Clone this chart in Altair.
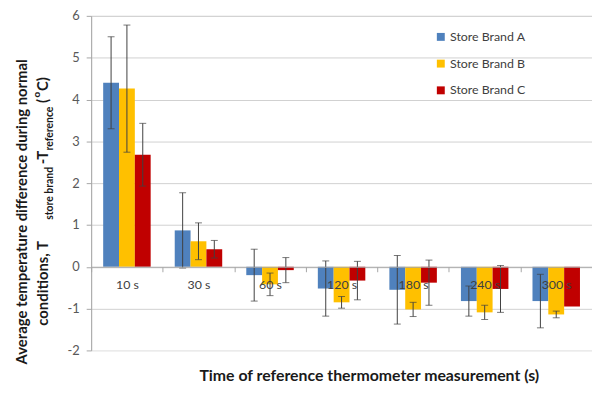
import altair as alt
import pandas as pd

categories = ["10 s", "30 s", "60 s", "120 s", "180 s", "240 s", "300 s"]
brands = ["Store Brand A", "Store Brand B", "Store Brand C"]
colors = ["#4F81BD", "#FFC000", "#C00000"]

brand_a = [4.40, 0.87, -0.20, -0.52, -0.55, -0.82, -0.82]
brand_a_err = [1.10, 0.90, 0.62, 0.66, 0.82, 0.36, 0.64]
brand_b = [4.26, 0.61, -0.42, -0.85, -1.02, -1.09, -1.14]
brand_b_err = [1.52, 0.44, 0.27, 0.14, 0.17, 0.17, 0.08]
brand_c = [2.68, 0.42, -0.08, -0.33, -0.38, -0.53, -0.95]
brand_c_err = [0.75, 0.21, 0.30, 0.46, 0.54, 0.56, 0.0]

rows = []
for b, vals, errs in zip(brands, [brand_a, brand_b, brand_c], [brand_a_err, brand_b_err, brand_c_err]):
    for t, v, e in zip(categories, vals, errs):
        rows.append({"time": t, "brand": b, "value": v, "err": e, "lo": v - e, "hi": v + e})
df = pd.DataFrame(rows)
err_df = df[df["err"] > 0]

FONT = "Lato"
W, H = 506, 338

x_enc = alt.X("time:N", sort=categories,
              scale=alt.Scale(paddingInner=0, paddingOuter=0),
              axis=alt.Axis(title=None, orient="bottom", offset=-84.5, labelAngle=0,
                            domainColor="#a6a6a6", tickColor="#a6a6a6", tickSize=5,
                            tickBand="extent", labelFont=FONT, labelFontSize=12.5,
                            labelColor="#404040", labelPadding=7, grid=False, zindex=1))
xo_enc = alt.XOffset("brand:N", sort=brands,
                     scale=alt.Scale(paddingOuter=0.76, paddingInner=0))
y_scale = alt.Scale(domain=[-2, 6], nice=False)

bars = alt.Chart(df).mark_bar().encode(
    x=x_enc, xOffset=xo_enc,
    y=alt.Y("value:Q", scale=y_scale,
            axis=alt.Axis(values=list(range(-2, 7)), title=None,
                          labelExpr="'' + datum.value",
                          domainColor="#a6a6a6", tickColor="#a6a6a6", tickSize=5,
                          labelFont=FONT, labelFontSize=13, labelColor="#595959",
                          labelPadding=7,
                          gridColor={"condition": {"test": "datum.value === -2", "value": "transparent"},
                                     "value": "#d0d0d0"})),
    color=alt.Color("brand:N", sort=brands,
                    scale=alt.Scale(domain=brands, range=colors),
                    legend=alt.Legend(title=None, orient="none", legendX=347, legendY=15,
                                      symbolType="square", symbolSize=64, symbolStrokeWidth=0,
                                      labelFont=FONT, labelFontSize=12.5, labelColor="#404040",
                                      labelOffset=3, rowPadding=14)),
)

rules = alt.Chart(err_df).mark_rule(color="#404040", strokeWidth=1).encode(
    x=alt.X("time:N", sort=categories), xOffset=alt.XOffset("brand:N", sort=brands),
    y=alt.Y("lo:Q", scale=y_scale), y2="hi:Q")
cap_hi = alt.Chart(err_df).mark_tick(color="#404040", thickness=1, size=7, orient="horizontal").encode(
    x=alt.X("time:N", sort=categories), xOffset=alt.XOffset("brand:N", sort=brands),
    y=alt.Y("hi:Q", scale=y_scale))
cap_lo = alt.Chart(err_df).mark_tick(color="#404040", thickness=1, size=7, orient="horizontal").encode(
    x=alt.X("time:N", sort=categories), xOffset=alt.XOffset("brand:N", sort=brands),
    y=alt.Y("lo:Q", scale=y_scale))

one = pd.DataFrame({"a": [0]})

def label(txt, x, y, size=15, align="center", weight="bold"):
    return alt.Chart(one).mark_text(text=txt, angle=270, align=align, baseline="middle",
                                    font=FONT, fontSize=size, fontWeight=weight,
                                    color="#1a1a1a").encode(x=alt.value(x), y=alt.value(y))

ytitle = [
    label("Average temperature difference during normal", -70, 198),
    label("conditions, T", -49, 313, align="left"),
    label("store brand", -42, 206, size=10.5, align="left"),
    label("-T", -49, 150, align="left"),
    label("reference", -42, 136, size=10.5, align="left"),
    label("(", -49, 88, align="left"),
    label("o", -55, 82.5, size=10, align="left"),
    label("C)", -49, 76, align="left"),
]

xtitle = alt.Chart(one).mark_text(text="Time of reference thermometer measurement (s)",
                                   align="center", baseline="middle", font=FONT, fontSize=16,
                                   fontWeight="bold", color="#1a1a1a").encode(
    x=alt.value(281), y=alt.value(364))

chart = alt.layer(bars, rules, cap_hi, cap_lo, *ytitle, xtitle).properties(
    width=W, height=H,
    autosize=alt.AutoSizeParams(type="none"),
    padding={"left": 84, "top": 6, "right": 0, "bottom": 33},
).configure_view(stroke=None).configure(background="white")

chart.save("out.html", embed_options={"renderer": "svg", "actions": False})
